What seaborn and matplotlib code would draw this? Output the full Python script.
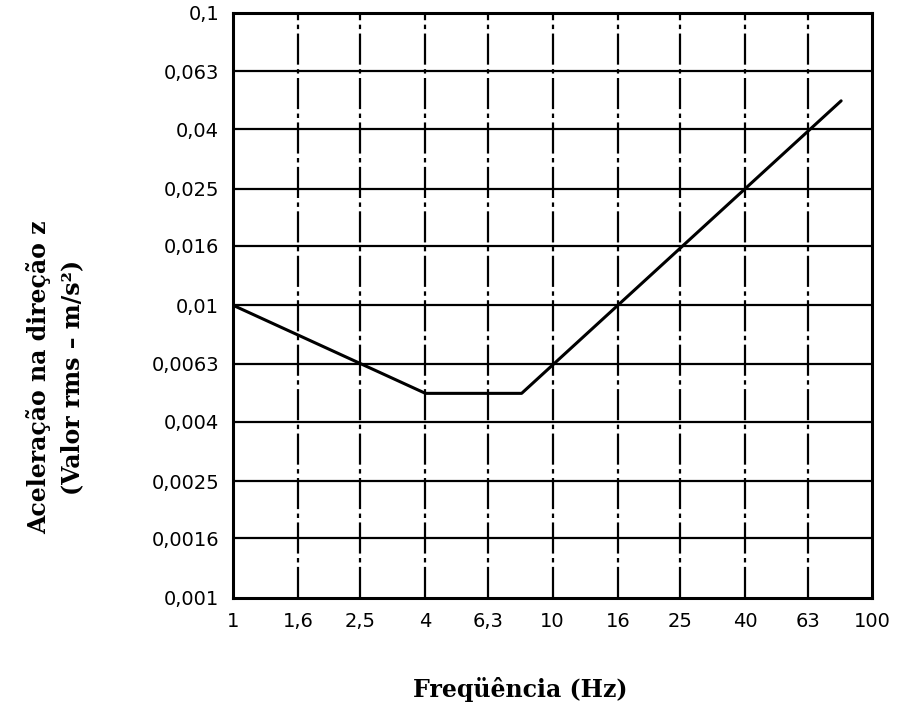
import numpy as np
import pandas as pd
import seaborn as sns
import matplotlib.pyplot as plt

# curve breakpoints (Hz, m/s^2 rms)
freq = [1, 4, 8, 80]
accel = [0.01, 0.005, 0.005, 0.05]

x_ticks = [1, 1.6, 2.5, 4, 6.3, 10, 16, 25, 40, 63, 100]
x_labels = ["1", "1,6", "2,5", "4", "6,3", "10", "16", "25", "40", "63", "100"]
y_ticks = [0.001, 0.0016, 0.0025, 0.004, 0.0063, 0.01, 0.016, 0.025, 0.04, 0.063, 0.1]
y_labels = ["0,001", "0,0016", "0,0025", "0,004", "0,0063", "0,01",
            "0,016", "0,025", "0,04", "0,063", "0,1"]


def main():
    sns.set_style("white")
    df = pd.DataFrame({"freq": freq, "accel": accel})

    fig = plt.figure(figsize=(9, 7.1), dpi=100)
    ax = fig.add_axes([0.259, 0.158, 0.71, 0.824])

    ax.set_xscale("log")
    ax.set_yscale("log")
    ax.set_xlim(1, 100)
    ax.set_ylim(0.001, 0.1)

    # grid: solid horizontals, broken verticals
    for y in y_ticks[1:-1]:
        ax.axhline(y, color="black", lw=1.6, zorder=1)
    for x in x_ticks[1:-1]:
        ax.axvline(x, color="black", lw=1.6, ls=(0, (14, 2, 2, 2)), zorder=1)

    sns.lineplot(data=df, x="freq", y="accel", color="black", lw=2.2,
                 ax=ax, zorder=3)

    ax.set_xticks(x_ticks)
    ax.set_xticklabels(x_labels, fontsize=14, color="black")
    ax.set_yticks(y_ticks)
    ax.set_yticklabels(y_labels, fontsize=14, color="black")
    ax.minorticks_off()
    ax.tick_params(length=0, pad=10)
    ax.set_xlabel("")
    ax.set_ylabel("")

    for s in ax.spines.values():
        s.set_visible(True)
        s.set_color("black")
        s.set_linewidth(2.2)

    fig.text(520 / 900, 1 - 690 / 710, "Freqüência (Hz)", fontsize=17,
             fontweight="bold", family="DejaVu Serif", color="black",
             ha="center", va="center")
    fig.text(55 / 900, 1 - 377 / 710, "Aceleração na direção z\n(Valor rms – m/s²)",
             fontsize=17, fontweight="bold", family="DejaVu Serif", color="black",
             rotation=90, ha="center", va="center", multialignment="center",
             linespacing=1.5)

    fig.savefig("out.png", dpi=100)


if __name__ == "__main__":
    main()
